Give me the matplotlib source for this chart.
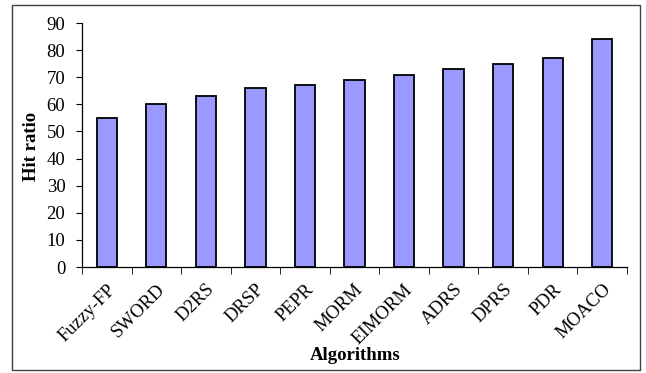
import matplotlib
matplotlib.use("Agg")
import matplotlib.pyplot as plt
from matplotlib.patches import Rectangle

algorithms = ["Fuzzy-FP", "SWORD", "D2RS", "DRSP", "PEPR", "MORM",
              "EIMORM", "ADRS", "DPRS", "PDR", "MOACO"]
hit_ratio = [55, 60, 63, 66, 67, 69, 71, 73, 75, 77, 84]
y_ticks = list(range(0, 91, 10))

plt.rcParams["font.family"] = ["Liberation Serif", "DejaVu Serif"]

fig = plt.figure(figsize=(6.46, 3.73), dpi=100)
ax = fig.add_axes([82 / 646, 1 - 267 / 373, (627 - 82) / 646, (267 - 23) / 373])

x = list(range(len(algorithms)))
ax.bar(x, hit_ratio, width=0.41, color="#9999FF", edgecolor="black",
       linewidth=1.3, zorder=3)

ax.set_xlim(-0.5, len(algorithms) - 0.5)
ax.set_ylim(0, 90)
ax.set_yticks(y_ticks)
ax.tick_params(axis="y", direction="out", length=4, labelsize=13.5, pad=8)

# category labels centred under bars, tick marks between categories
ax.set_xticks(x)
ax.set_xticklabels(algorithms, rotation=45, ha="right",
                   rotation_mode="anchor", fontsize=13.5)
ax.tick_params(axis="x", which="major", length=0, pad=10)
ax.set_xticks([i - 0.5 for i in range(len(algorithms) + 1)], minor=True)
ax.tick_params(axis="x", which="minor", direction="out", length=5)

for side in ("top", "right"):
    ax.spines[side].set_visible(False)
for side in ("left", "bottom"):
    ax.spines[side].set_linewidth(0.9)

fig.text(32 / 646, 1 - 146 / 373, "Hit ratio", fontsize=13.5,
         fontweight="bold", rotation=90, ha="center", va="center")
fig.text(355 / 646, 1 - 355 / 373, "Algorithms", fontsize=13.5,
         fontweight="bold", ha="center", va="center")

# chart frame
fig.patches.append(Rectangle((12 / 646, 3 / 373), (640 - 12) / 646,
                             (369 - 4) / 373, transform=fig.transFigure,
                             fill=False, edgecolor="#404040", linewidth=1.0))

fig.savefig("out.png", dpi=100)
